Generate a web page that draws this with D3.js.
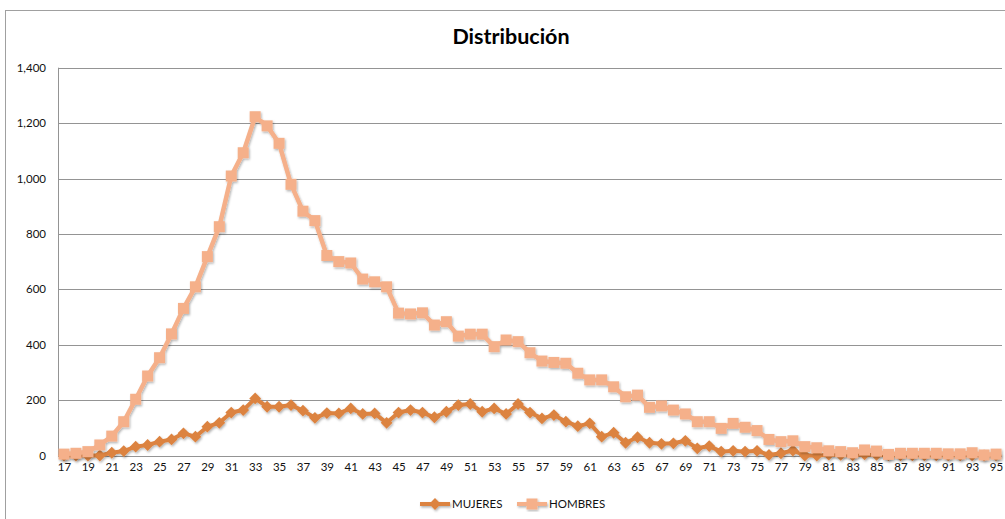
<!doctype html>
<html>
<head>
<meta charset="utf-8">
<title>Distribución</title>
<script src="https://d3js.org/d3.v7.min.js"></script>
<style>
 body { margin: 0; background: #fff; }
 text { font-family: Lato, "Open Sans", sans-serif; }
</style>
</head>
<body>
<script>
// edades (categorías)
var edades = d3.range(17, 96);

// valores, uno por edad 17..95
var mujeres = [
  0, 0, 0, 0, 10, 16, 32, 38, 50, 58,          // 17-26
  80, 68, 104, 118, 155, 164, 206, 176, 176, 182, // 27-36
  162, 136, 153, 152, 170, 150, 152, 118, 155, 164, // 37-46
  155, 138, 158, 182, 186, 158, 170, 150, 186, 155, // 47-56
  134, 146, 122, 106, 116, 68, 82, 46, 66, 46,  // 57-66
  42, 44, 53, 26, 34, 14, 17, 14, 17, 2,        // 67-76
  8, 18, 0, 0, 3, 2, 1, 4, 2, 1,                // 77-86
  1, 1, 1, 1, 1, 1, 1, 0, 1                     // 87-95
];
var hombres = [
  5, 8, 14, 38, 70, 122, 203, 287, 353, 439,    // 17-26
  531, 609, 718, 826, 1009, 1093, 1223, 1190, 1127, 979, // 27-36
  882, 848, 722, 700, 695, 637, 627, 609, 514, 511, // 37-46
  515, 471, 483, 431, 438, 438, 393, 417, 411, 371, // 47-56
  341, 336, 333, 297, 273, 273, 248, 212, 218, 174, // 57-66
  179, 164, 150, 122, 122, 98, 116, 102, 90, 58, // 67-76
  50, 53, 32, 28, 17, 14, 10, 20, 16, 4,        // 77-86
  8, 8, 8, 8, 6, 6, 10, 2, 5                    // 87-95
];
var yTicks = [0, 200, 400, 600, 800, 1000, 1200, 1400];
var series = ["MUJERES", "HOMBRES"];

var colMuj = "#dc8340";
var colHom = "#f5b08a";

var W = 1005, H = 519;
var svg = d3.select("body").append("svg")
  .attr("width", W)
  .attr("height", H);

// sombra de los marcadores
var defs = svg.append("defs");
defs.append("filter")
  .attr("id", "sombra")
  .attr("x", "-20%").attr("y", "-20%")
  .attr("width", "140%").attr("height", "140%")
  .append("feDropShadow")
  .attr("dx", 1).attr("dy", 1.5)
  .attr("stdDeviation", 1)
  .attr("flood-color", "#000")
  .attr("flood-opacity", 0.3);

// marco del gráfico
svg.append("rect")
  .attr("x", 5.5).attr("y", 10.5)
  .attr("width", 1010).attr("height", 520)
  .attr("fill", "#fff")
  .attr("stroke", "#a0a0a0");

// título
svg.append("text")
  .attr("x", 511)
  .attr("y", 44)
  .attr("text-anchor", "middle")
  .attr("font-size", 21.5)
  .attr("font-weight", "bold")
  .attr("fill", "#000")
  .text("Distribución");

var x = d3.scalePoint()
  .domain(edades)
  .range([58, 1002])
  .padding(0.5);

var y = d3.scaleLinear()
  .domain([0, 1400])
  .range([455.5, 67.7]);

// líneas de cuadrícula
svg.append("g")
  .selectAll("line")
  .data(yTicks)
  .join("line")
  .attr("x1", 58).attr("x2", 1002)
  .attr("y1", function(d) { return Math.round(y(d)) + 0.5; })
  .attr("y2", function(d) { return Math.round(y(d)) + 0.5; })
  .attr("stroke", "#949494");

// eje vertical
svg.append("line")
  .attr("x1", 58.5).attr("x2", 58.5)
  .attr("y1", y(1400)).attr("y2", y(0))
  .attr("stroke", "#949494");

// eje Y
var ejeY = svg.append("g")
  .attr("transform", "translate(58,0)")
  .call(d3.axisLeft(y).tickValues(yTicks).tickFormat(d3.format(",")).tickSize(0).tickPadding(12));
ejeY.select(".domain").remove();
ejeY.selectAll("text")
  .attr("font-family", "Lato, sans-serif")
  .attr("font-size", 11.5)
  .attr("fill", "#111");

// eje X
var ejeX = svg.append("g")
  .attr("transform", "translate(0," + y(0) + ")")
  .call(d3.axisBottom(x)
    .tickValues(edades.filter(function(d) { return (d - 17) % 2 === 0; }))
    .tickSize(0).tickPadding(7));
ejeX.select(".domain").remove();
ejeX.selectAll("text")
  .attr("font-family", "Lato, sans-serif")
  .attr("font-size", 11.5)
  .attr("fill", "#111");

var linea = d3.line()
  .x(function(d, i) { return x(edades[i]); })
  .y(function(d) { return y(d); });

var cuadrado = d3.symbol().type(d3.symbolSquare).size(121);
var rombo = d3.symbol().type(d3.symbolSquare).size(70);

// MUJERES
var gM = svg.append("g").attr("filter", "url(#sombra)");
gM.append("path")
  .datum(mujeres)
  .attr("d", linea)
  .attr("fill", "none")
  .attr("stroke", colMuj)
  .attr("stroke-width", 4)
  .attr("stroke-linejoin", "round");
gM.selectAll("path.m")
  .data(mujeres)
  .join("path")
  .attr("class", "m")
  .attr("d", rombo)
  .attr("transform", function(d, i) { return "translate(" + x(edades[i]) + "," + y(d) + ") rotate(45)"; })
  .attr("fill", colMuj);

// HOMBRES
var gH = svg.append("g").attr("filter", "url(#sombra)");
gH.append("path")
  .datum(hombres)
  .attr("d", linea)
  .attr("fill", "none")
  .attr("stroke", colHom)
  .attr("stroke-width", 4.5)
  .attr("stroke-linejoin", "round");
gH.selectAll("path.h")
  .data(hombres)
  .join("path")
  .attr("class", "h")
  .attr("d", cuadrado)
  .attr("transform", function(d, i) { return "translate(" + x(edades[i]) + "," + y(d) + ")"; })
  .attr("fill", colHom);

// leyenda
var ley = svg.append("g");
var leyX = [420, 517];
series.forEach(function(s, k) {
  var c = k === 0 ? colMuj : colHom;
  var g = ley.append("g").attr("transform", "translate(" + leyX[k] + ",504)").attr("filter", "url(#sombra)");
  g.append("line")
    .attr("x1", 0).attr("x2", 30)
    .attr("y1", 0).attr("y2", 0)
    .attr("stroke", c)
    .attr("stroke-width", 4);
  g.append("path")
    .attr("d", k === 0 ? rombo : cuadrado)
    .attr("transform", "translate(15,0)" + (k === 0 ? " rotate(45)" : ""))
    .attr("fill", c);
  ley.append("text")
    .attr("x", leyX[k] + 32)
    .attr("y", 508)
    .attr("font-size", 11.5)
    .attr("fill", "#111")
    .text(s);
});
</script>
</body>
</html>
